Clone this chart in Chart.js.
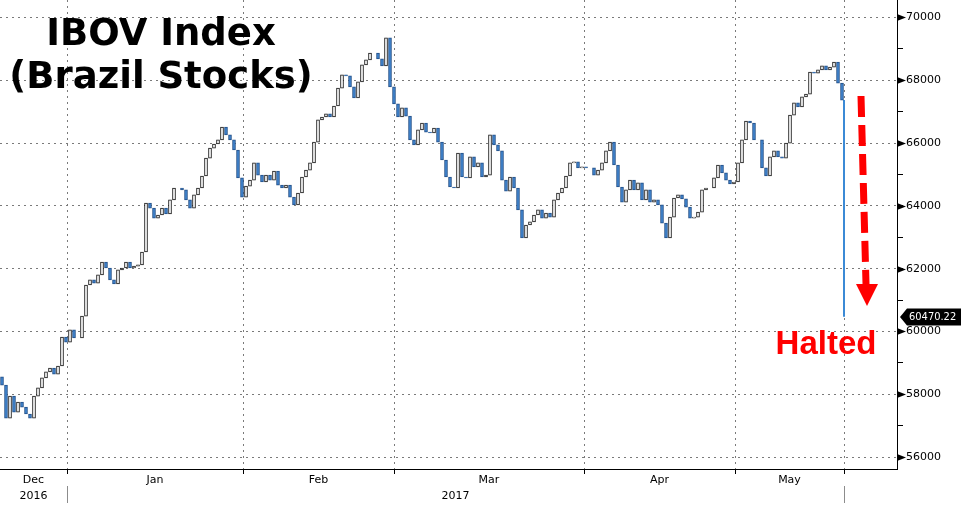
<!DOCTYPE html>
<html>
<head>
<meta charset="utf-8">
<title>IBOV Index (Brazil Stocks)</title>
<script src="https://cdn.jsdelivr.net/npm/chart.js@4.4.1/dist/chart.umd.min.js"></script>
<style>
  html, body { margin: 0; padding: 0; background: #fff; }
  #wrap { position: relative; width: 961px; height: 512px; }
</style>
</head>
<body>
<div id="wrap"><canvas id="ibovChart" width="961" height="512"></canvas></div>
<script>
// ---------- DATA (~half-session candles) ----------
const closes = [
  58290, 57240, 57940, 57430, 57750, 57590, 57370, 57240, 57940, 58200,
  58520, 58710, 58830, 58640, 58900, 59820, 59660, 60050, 59790, 59790,
  60490, 61480, 61640, 61540, 61800, 62210, 62020, 61640, 61510, 61960,
  62020, 62210, 62020, 62080, 62120, 62530, 64090, 63930, 63610, 63710,
  63930, 63740, 64190, 64570, 64570, 64510, 64190, 63930, 64350, 64570,
  64950, 65520, 65840, 65970, 66100, 66510, 66260, 66100, 65780, 64890,
  64280, 64630, 64820, 65370, 64980, 64760, 64980, 64820, 65110, 64660,
  64570, 64660, 64280, 64030, 64410, 64920, 65140, 65370, 66030, 66740,
  66830, 66930, 66830, 67180, 67750, 68170, 68140, 67790, 67440, 67950,
  68490, 68650, 68870, 68870, 68680, 68460, 69350, 67790, 67250, 66830,
  67120, 66860, 66100, 65940, 66420, 66640, 66350, 66320, 66480, 66030,
  65460, 64920, 64600, 64570, 65680, 64920, 64890, 65560, 65240, 65370,
  64920, 64980, 66260, 65940, 65750, 64820, 64470, 64920, 64570, 63870,
  62980, 63390, 63490, 63710, 63870, 63610, 63770, 63640, 64190, 64410,
  64570, 64950, 65370, 65400, 65210, 65240, 65210, 65210, 64980, 65140,
  65370, 65750, 66030, 65300, 64600, 64120, 64510, 64820, 64510, 64730,
  64190, 64510, 64120, 64190, 64030, 63450, 62980, 63640, 64250, 64350,
  64220, 63960, 63610, 63640, 63800, 64510, 64570, 64570, 64890, 65300,
  65050, 64820, 64700, 64760, 65370, 66100, 66700, 66640, 66100, 66100,
  65210, 64950, 65560, 65750, 65560, 65520, 66000, 66890, 67280, 67150,
  67470, 67560, 68260, 68230, 68330, 68460, 68330, 68420, 68580, 67910,
  67370
];
const firstOpen = 58550;
const haltValue = 60470.22;          // last print when trading was halted
const haltAt = 210.5;                // candle position of the halt print

// month boundaries (candle positions) and their labels
const monthEnds   = [16.25, 60.25, 98, 145.5, 183.25, 210.5];
const monthLabels = ['Dec', 'Jan', 'Feb', 'Mar', 'Apr', 'May'];
const yearLabels  = ['2016', '2017'];

// y axis
const yTickLabels = [56000, 58000, 60000, 62000, 64000, 66000, 68000, 70000];
const yMinorTicks = [57000, 59000, 61000, 63000, 65000, 67000, 69000];

document.addEventListener('DOMContentLoaded', function () {

  const UP = '#ffffff', DOWN = '#3b80cc';
  const UP_EDGE = '#111111', DOWN_EDGE = '#234f86';
  const candles = closes.map((c, i) => {
    const o = i === 0 ? firstOpen : closes[i - 1];
    return { x: i, y: [o, c], up: c >= o };
  });

  // no label padding around the plot: the plot fills the canvas edge to edge
  const noPad = s => { s.paddingTop = 0; s.paddingBottom = 0; s.paddingLeft = 0; s.paddingRight = 0; };

  // ---------- custom drawing: axis arrows, month labels, tags, notes ----------
  const decor = {
    id: 'decor',
    afterDraw(chart) {
      const { ctx, chartArea: a, scales: { x, y } } = chart;
      ctx.save();

      // black arrows on the major y ticks
      ctx.fillStyle = '#000';
      yTickLabels.forEach(v => {
        const py = Math.round(y.getPixelForValue(v)) + 0.5;
        ctx.beginPath();
        ctx.moveTo(a.right, py - 3.5);
        ctx.lineTo(a.right + 9, py);
        ctx.lineTo(a.right, py + 3.5);
        ctx.closePath();
        ctx.fill();
      });

      // month labels centred between boundaries
      ctx.font = '11px "DejaVu Sans"';
      ctx.textAlign = 'center';
      ctx.textBaseline = 'alphabetic';
      ctx.fillStyle = '#000';
      let prev = x.min;
      monthEnds.forEach((m, i) => {
        const cx = (x.getPixelForValue(prev) + x.getPixelForValue(m)) / 2;
        ctx.fillText(monthLabels[i], cx, a.bottom + 14);
        prev = m;
      });
      // years
      ctx.fillText(yearLabels[0], (x.getPixelForValue(x.min) + x.getPixelForValue(monthEnds[0])) / 2, a.bottom + 30);
      ctx.fillText(yearLabels[1], (x.getPixelForValue(monthEnds[0]) + x.getPixelForValue(monthEnds[5])) / 2, a.bottom + 30);
      // year separators
      ctx.strokeStyle = '#8c8c8c';
      ctx.lineWidth = 1;
      [monthEnds[0], monthEnds[5]].forEach(m => {
        const px = Math.round(x.getPixelForValue(m)) + 0.5;
        ctx.beginPath();
        ctx.moveTo(px, a.bottom + 17);
        ctx.lineTo(px, a.bottom + 34);
        ctx.stroke();
      });

      // last price tag
      const ty = Math.round(y.getPixelForValue(haltValue));
      ctx.fillStyle = '#000';
      ctx.beginPath();
      ctx.moveTo(a.right + 3, ty);
      ctx.lineTo(a.right + 10, ty - 8.5);
      ctx.lineTo(chart.width, ty - 8.5);
      ctx.lineTo(chart.width, ty + 8.5);
      ctx.lineTo(a.right + 10, ty + 8.5);
      ctx.closePath();
      ctx.fill();
      ctx.fillStyle = '#fff';
      ctx.font = '11px "DejaVu Sans Condensed", "DejaVu Sans"';
      ctx.textAlign = 'left';
      ctx.textBaseline = 'middle';
      ctx.fillText(haltValue.toFixed(2), a.right + 12, ty + 0.5);

      // title
      ctx.fillStyle = '#000';
      ctx.font = 'bold 37px "DejaVu Sans"';
      ctx.textAlign = 'center';
      ctx.textBaseline = 'alphabetic';
      ctx.fillText('IBOV Index', 161, 45);
      ctx.fillText('(Brazil Stocks)', 161, 88);

      // red "Halted" note with dashed arrow
      ctx.fillStyle = '#ff0000';
      ctx.font = 'bold 33px "Liberation Sans"';
      ctx.fillText('Halted', 826, 354);
      ctx.strokeStyle = '#ff0000';
      ctx.lineWidth = 7;
      ctx.setLineDash([21, 8]);
      ctx.beginPath();
      ctx.moveTo(861, 96);
      ctx.lineTo(866, 284);
      ctx.stroke();
      ctx.setLineDash([]);
      ctx.beginPath();
      ctx.moveTo(856, 284);
      ctx.lineTo(878, 284);
      ctx.lineTo(867, 306);
      ctx.closePath();
      ctx.fill();

      ctx.restore();
    }
  };

  const gridGray = '#7a7a7a';

  new Chart(document.getElementById('ibovChart'), {
    data: {
      datasets: [
        {
          type: 'bar',
          data: candles,
          backgroundColor: ctx => (ctx.raw && ctx.raw.up) ? UP : DOWN,
          borderColor: ctx => (ctx.raw && ctx.raw.up) ? UP_EDGE : DOWN_EDGE,
          borderWidth: 1,
          borderSkipped: false,
          barThickness: 3,
          grouped: false
        },
        {
          type: 'line',
          data: [{ x: haltAt, y: closes[closes.length - 1] }, { x: haltAt, y: haltValue }],
          borderColor: '#3b8ad6',
          borderWidth: 2,
          pointRadius: 0,
          fill: false
        }
      ]
    },
    options: {
      responsive: false,
      animation: false,
      devicePixelRatio: 1,
      layout: { padding: 0 },
      plugins: { legend: { display: false }, tooltip: { enabled: false } },
      scales: {
        x: {
          type: 'linear',
          offset: false,
          min: -0.5,
          max: 223.75,
          afterFit: s => { s.height = 43; noPad(s); },
          afterBuildTicks: s => { s.ticks = monthEnds.map(v => ({ value: v })); },
          ticks: { display: false },
          grid: { offset: false, color: gridGray, tickColor: '#000', tickLength: 5 },
          border: { display: true, color: '#000', width: 1, dash: [2, 4] }
        },
        y: {
          position: 'right',
          min: 55618,
          max: 70557,
          afterFit: s => { s.width = 64; noPad(s); },
          afterBuildTicks: s => {
            s.ticks = yTickLabels.concat(yMinorTicks).sort((a, b) => a - b).map(v => ({ value: v }));
          },
          ticks: {
            autoSkip: false,
            padding: 3,
            color: '#000',
            font: { family: 'DejaVu Sans', size: 11 },
            callback: v => yTickLabels.includes(v) ? String(v) : ''
          },
          grid: {
            color: c => (c.tick && yTickLabels.includes(c.tick.value)) ? gridGray : 'rgba(0,0,0,0)',
            tickColor: '#000',
            tickLength: 6
          },
          border: { display: true, color: '#000', width: 1, dash: [2, 4] }
        }
      }
    },
    plugins: [decor]
  });

});
</script>
</body>
</html>
